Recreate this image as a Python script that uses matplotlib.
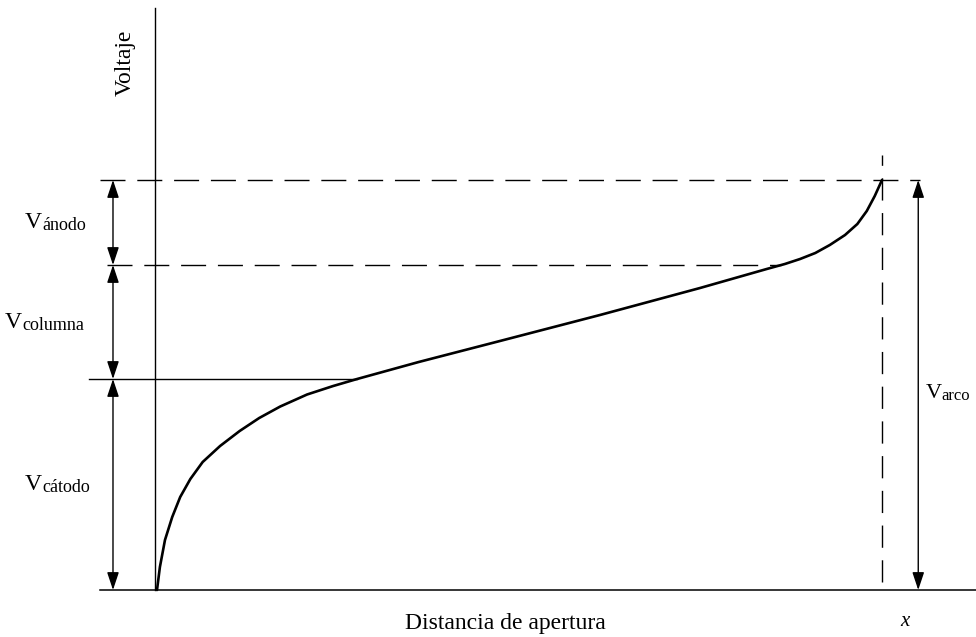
import matplotlib.pyplot as plt
from matplotlib import transforms

# distribución de voltaje en el arco (unidades arbitrarias)
dist = [0, 0.04, 0.11, 0.21, 0.32, 0.46, 0.63, 0.87, 1.14, 1.41, 1.70, 2.07,
        2.43, 2.76, 3.21, 3.61, 4.73, 6.11, 7.49, 8.41, 8.66, 8.87, 9.08,
        9.28, 9.49, 9.66, 9.79, 9.90, 10.0]
volt = [0, 2.3, 5.0, 7.3, 9.3, 11.1, 12.8, 14.4, 15.9, 17.2, 18.35, 19.55,
        20.4, 21.1, 22.0, 22.8, 24.9, 27.5, 30.2, 32.1, 32.6, 33.1, 33.7,
        34.5, 35.5, 36.6, 37.9, 39.4, 41.0]

gap = 10.0          # distancia de apertura
v_catodo = 21.1     # fin de la caída catódica
v_columna = 32.5    # fin de la columna
v_arco = 41.0       # voltaje total

labels_izq = ["ánodo", "columna", "cátodo"]

plt.rcParams['font.family'] = ['Liberation Serif', 'DejaVu Serif']

fig = plt.figure(figsize=(9.76, 6.37), dpi=100)
ax = fig.add_axes([0, 0, 1, 1])
ax.set_xlim(-157 / 72.5, (976 - 157) / 72.5)
ax.set_ylim(-4.7, 59)
ax.axis('off')

dash = (18, 8.5)

# ejes
ax.plot([-0.03, -0.03], [0, 58.2], color='black', lw=1)
ax.plot([-0.79, 11.3], [0, 0], color='black', lw=1.1)

# curva de voltaje
ax.plot(dist, volt, color='black', lw=1.9, solid_capstyle='round',
        solid_joinstyle='round')

# niveles
x_col = 8.41 + (v_columna - 32.1) / (32.6 - 32.1) * (8.66 - 8.41)
ax.plot([-0.79, 10.52], [v_arco, v_arco], color='black', lw=1, dashes=dash)
ax.plot([-0.69, x_col], [v_columna, v_columna], color='black', lw=1, dashes=dash)
ax.plot([-0.94, 2.76], [v_catodo, v_catodo], color='black', lw=1)
ax.plot([gap, gap], [0.8, 43.5], color='black', lw=1, dashes=(16, 9))

# flechas
arrow = dict(arrowstyle='<|-|>,head_length=0.54,head_width=0.18',
             color='black', lw=1, mutation_scale=20, shrinkA=0, shrinkB=0)
x_flecha = -0.607
tramos = [(v_columna, v_arco), (v_catodo, v_columna), (0, v_catodo)]
for (y0, y1) in tramos:
    ax.annotate('', xy=(x_flecha, y1), xytext=(x_flecha, y0), arrowprops=arrow)
ax.annotate('', xy=(10.5, v_arco), xytext=(10.5, 0), arrowprops=arrow)

# etiquetas V
def etiqueta(x, y, sub, size_v=17, size_sub=13, dx=12.5):
    ax.text(x, y, "V", fontsize=size_v, ha='left', va='center')
    tr = transforms.offset_copy(ax.transData, fig=fig, x=dx, y=-2.5, units='points')
    ax.text(x, y, sub, fontsize=size_sub, ha='left', va='center', transform=tr)

x_lab = [-1.82, -2.10, -1.82]
for (y0, y1), sub, xl in zip(tramos, labels_izq, x_lab):
    etiqueta(xl, (y0 + y1) / 2, sub)
etiqueta(10.6, 19.7, "arco", size_v=16, size_sub=12, dx=11.5)

ax.text(-0.44, 52.7, "Voltaje", fontsize=17, rotation=90, ha='center', va='center')
ax.text(4.8, -3.4, "Distancia de apertura", fontsize=17, ha='center', va='center')
ax.text(10.32, -3.2, "x", fontsize=15, style='italic', ha='center', va='center')

fig.savefig("out.png", dpi=100)
